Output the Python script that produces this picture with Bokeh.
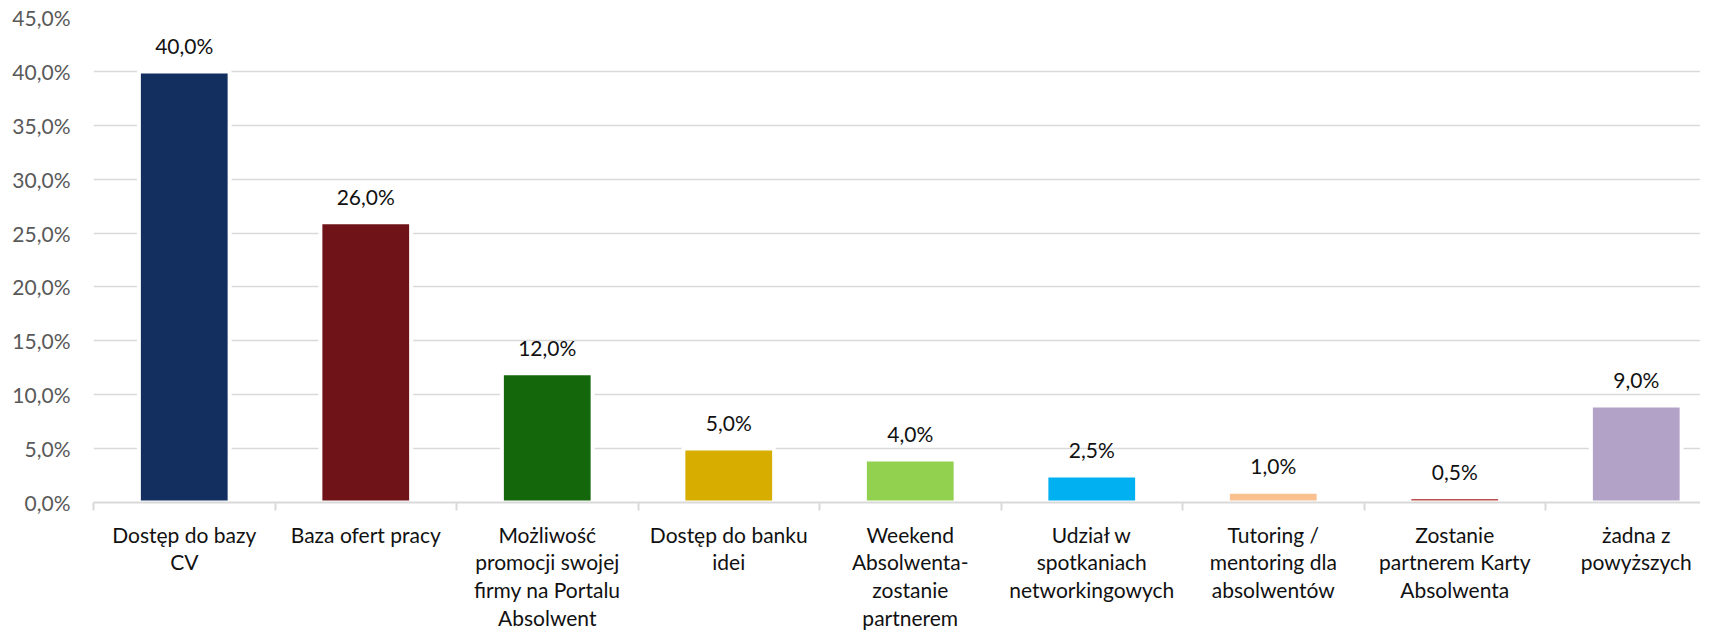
from bokeh.plotting import figure
from bokeh.models import Range1d, FixedTicker, ColumnDataSource
from bokeh.embed import file_html
from bokeh.resources import INLINE
from bokeh.core.properties import value

# ---- data ----
categories = [
    "Dostęp do bazy\nCV",
    "Baza ofert pracy",
    "Możliwość\npromocji swojej\nfirmy na Portalu\nAbsolwent",
    "Dostęp do banku\nidei",
    "Weekend\nAbsolwenta-\nzostanie\npartnerem",
    "Udział w\nspotkaniach\nnetworkingowych",
    "Tutoring /\nmentoring dla\nabsolwentów",
    "Zostanie\npartnerem Karty\nAbsolwenta",
    "żadna z\npowyższych",
]
values = [40.0, 26.0, 12.0, 5.0, 4.0, 2.5, 1.0, 0.5, 9.0]
colors = ["#132F60", "#6F1319", "#15670B", "#D7AD00", "#92D050",
          "#00B0F0", "#FAC090", "#C0504D", "#B3A2C7"]
y_ticks = [0, 5, 10, 15, 20, 25, 30, 35, 40, 45]
y_tick_labels = ["0,0%", "5,0%", "10,0%", "15,0%", "20,0%",
                 "25,0%", "30,0%", "35,0%", "40,0%", "45,0%"]
value_labels = [("%.1f%%" % v).replace(".", ",") for v in values]

FONT = "Lato"

centers = [i + 0.5 for i in range(len(categories))]
boundaries = [float(i) for i in range(len(categories) + 1)]

src = ColumnDataSource(dict(x=centers, top=values, color=colors, label=value_labels))

W = 1700
left_px = 93
x_end = (W - left_px) / 181.5

p = figure(width=W, height=632, output_backend="svg", toolbar_location=None,
           x_range=Range1d(0, x_end), y_range=Range1d(0, 45),
           min_border_top=17, min_border_right=0, min_border_left=left_px)
p.outline_line_color = None
p.background_fill_color = "white"

p.vbar(x="x", top="top", bottom=0, width=0.5, fill_color="color",
       line_color="white", line_width=4, source=src)

p.text(x="x", y="top", text="label", source=src, text_align="center",
       text_baseline="middle", y_offset=-26,
       text_font=value(FONT), text_font_size="21px", text_color="#111111")

# grid
p.xgrid.grid_line_color = None
p.ygrid.ticker = FixedTicker(ticks=y_ticks)
p.ygrid.grid_line_color = "#D9D9D9"
p.ygrid.grid_line_width = 1.5

# y axis
p.yaxis.ticker = FixedTicker(ticks=y_ticks)
p.yaxis.major_label_overrides = {t: l for t, l in zip(y_ticks, y_tick_labels)}
p.yaxis.axis_line_color = None
p.yaxis.major_tick_line_color = None
p.yaxis.major_tick_out = 0
p.yaxis.major_tick_in = 0
p.yaxis.minor_tick_line_color = None
p.yaxis.minor_tick_out = 0
p.yaxis.major_label_standoff = 23
p.yaxis.major_label_text_font = FONT
p.yaxis.major_label_text_font_size = "21px"
p.yaxis.major_label_text_color = "#595959"

# x axis
p.xaxis.ticker = FixedTicker(ticks=centers, minor_ticks=boundaries)
p.xaxis.major_label_overrides = {c: l for c, l in zip(centers, categories)}
p.xaxis.axis_line_color = "#D9D9D9"
p.xaxis.axis_line_width = 2
p.xaxis.major_tick_line_color = None
p.xaxis.major_tick_out = 0
p.xaxis.major_tick_in = 0
p.xaxis.minor_tick_line_color = "#D9D9D9"
p.xaxis.minor_tick_line_width = 2
p.xaxis.minor_tick_out = 8
p.xaxis.minor_tick_in = 0
p.xaxis.major_label_standoff = 11
p.xaxis.major_label_text_font = FONT
p.xaxis.major_label_text_font_size = "21px"
p.xaxis.major_label_text_color = "#111111"
p.xaxis.major_label_text_line_height = 1.11

open("out.html", "w").write(file_html(p, INLINE))
